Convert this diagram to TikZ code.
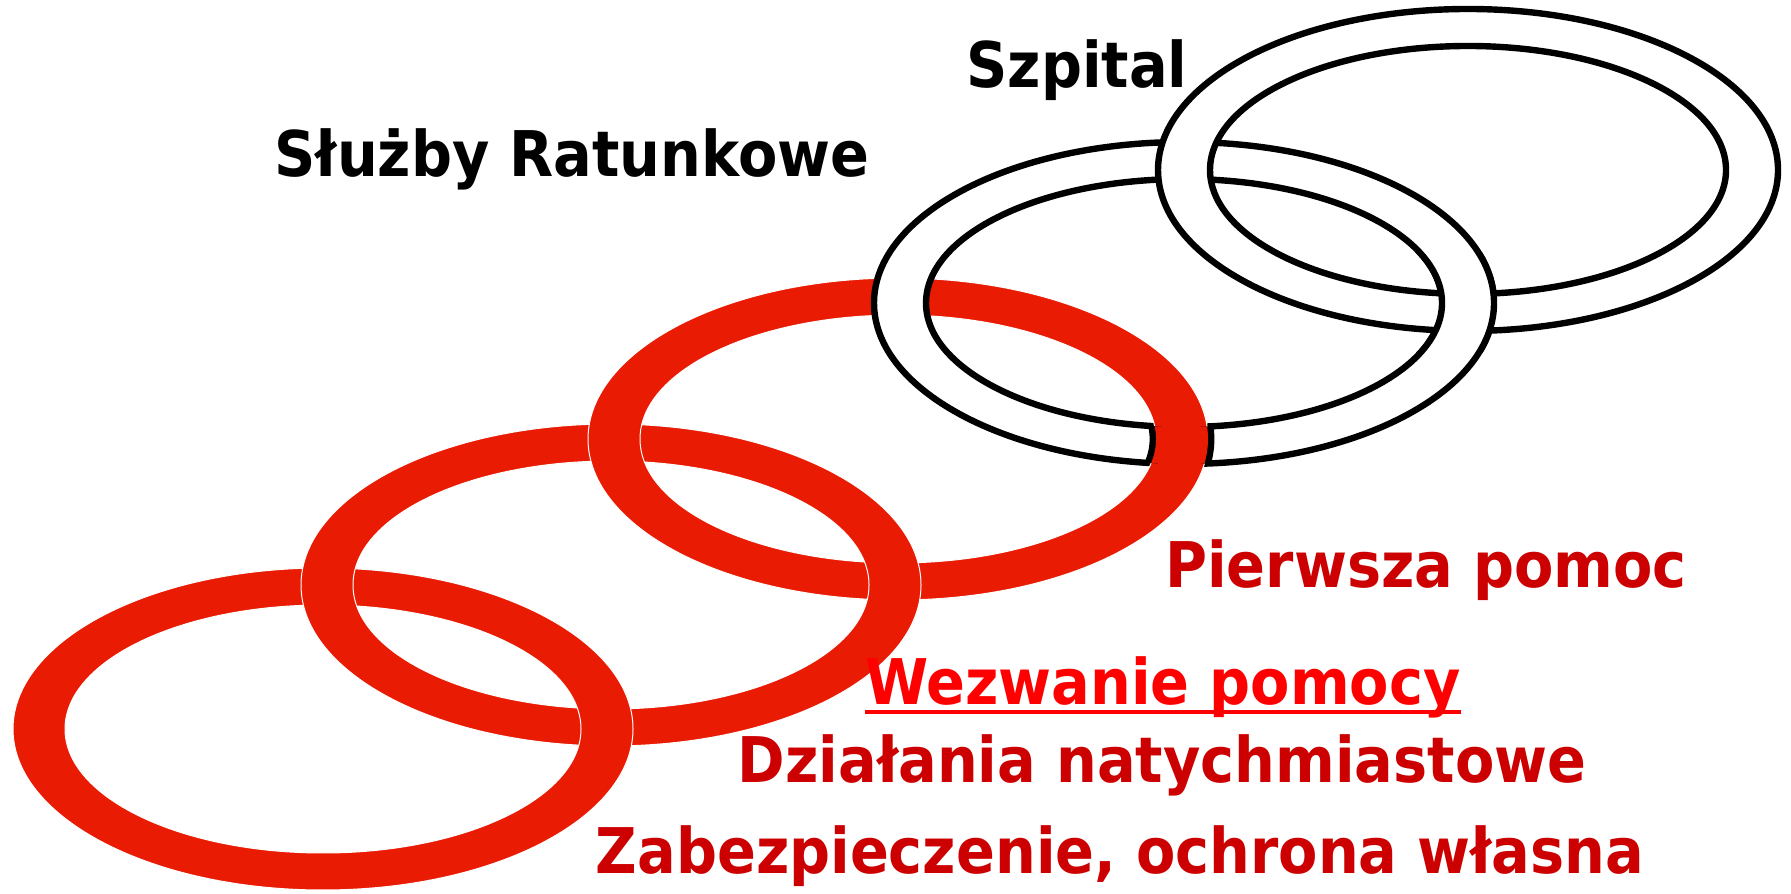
\documentclass[tikz,border=0pt]{standalone}
\usepackage{fontspec}
\setmainfont{DejaVu Sans}[FakeStretch=0.91]
\usetikzlibrary{positioning}
\definecolor{ringred}{RGB}{234,27,3}
\definecolor{textred}{RGB}{204,0,0}
\definecolor{callred}{RGB}{255,0,0}

\begin{document}
\begin{tikzpicture}
	[x=0.5pt, y=0.5pt,
	 redring/.style={fill=ringred, draw=white, line width=0.5pt, even odd rule},
	 whitering/.style={fill=white, draw=black, line width=3.2pt, even odd rule},
	 caption/.style={font=\bfseries\fontsize{31.5}{36}\selectfont, inner sep=0pt, anchor=base}]
	\useasboundingbox (0,0) rectangle (1791,893);
	\coordinate (R1) at (323,164);
	\coordinate (R2) at (611,308);
	\coordinate (R3) at (898,454);
	\coordinate (R4) at (1184,590);
	\coordinate (R5) at (1468,723);
	% chain, back to front
	\foreach \r in {R1,R2,R3}
		\path[redring] (\r) ellipse [x radius=310, y radius=161] (\r) ellipse [x radius=258, y radius=124];
	\foreach \r in {R4,R5}
		\path[whitering] (\r) ellipse [x radius=310, y radius=161] (\r) ellipse [x radius=258, y radius=124];
	% right side of each link passes over the next one
	\foreach \a in {R1,R2,R3} {
		\begin{scope}[shift={(\a)}]
			\clip (220,-50) rectangle (320,50);
			\path[redring] (0,0) ellipse [x radius=310, y radius=161] (0,0) ellipse [x radius=258, y radius=124];
		\end{scope}
	}
	\begin{scope}[even odd rule]
		\clip (R4) ellipse [x radius=310, y radius=161] (R4) ellipse [x radius=258, y radius=124];
		\begin{scope}[shift={(R3)}]
			\clip (220,-50) rectangle (320,50);
			\draw[black, line width=6.4pt] (0,0) ellipse [x radius=310, y radius=161] (0,0) ellipse [x radius=258, y radius=124];
			\path[redring, draw=none] (0,0) ellipse [x radius=310, y radius=161] (0,0) ellipse [x radius=258, y radius=124];
		\end{scope}
	\end{scope}
	\begin{scope}[shift={(R4)}]
		\clip (220,-50) rectangle (320,50);
		\path[whitering] (0,0) ellipse [x radius=310, y radius=161] (0,0) ellipse [x radius=258, y radius=124];
	\end{scope}

	\node[caption] (szpital) at (1077,805) {Szpital};
	\node[caption] (sluzby) at (572,716) {Służby Ratunkowe};
	\node[caption, textred] (pierwsza) at (1426,305) {Pierwsza pomoc};
	\node[caption, callred] (wezwanie) at (1163,188) {Wezwanie pomocy};
	\draw[callred, line width=2.2pt] ([yshift=-3.5pt]wezwanie.base west) -- ([yshift=-3.5pt]wezwanie.base east);
	\node[caption, textred] (dzialania) at (1162,110) {Działania natychmiastowe};
	\node[caption, textred] (zabezp) at (1120,19) {Zabezpieczenie, ochrona własna};
\end{tikzpicture}
\end{document}
